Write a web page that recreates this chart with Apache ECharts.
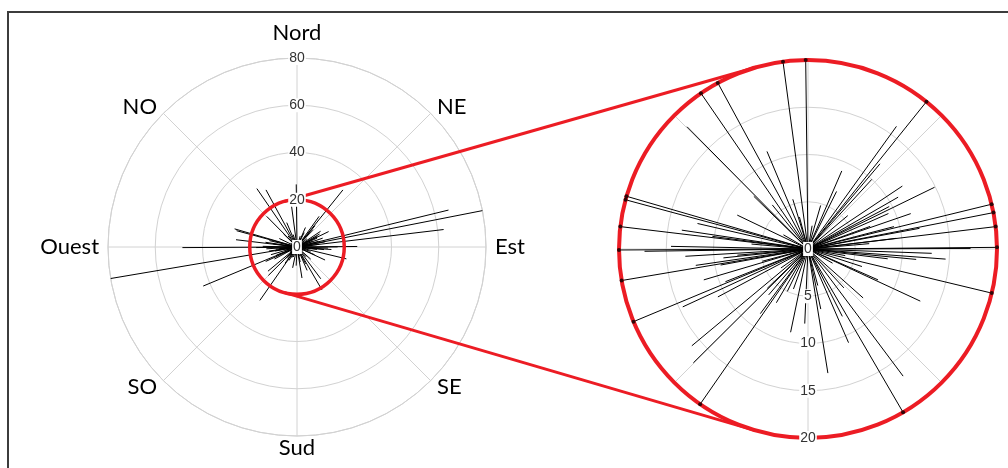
<!DOCTYPE html>
<html>
<head>
<meta charset="utf-8">
<script src="https://cdn.jsdelivr.net/npm/echarts@6.0.0/dist/echarts.min.js"></script>
<style>
html,body{margin:0;padding:0;background:#fff;}
#chart{width:1008px;height:468px;}
</style>
</head>
<body>
<div id="chart"></div>
<script>
// ---- data ----
const directionLabels = ['Nord', 'NE', 'Est', 'SE', 'Sud', 'SO', 'Ouest', 'NO'];
const mainTicks = [0, 20, 40, 60, 80];
const zoomTicks = [0, 5, 10, 15, 20];
// bearing of each segment (degrees, clockwise from Nord)
const bearings = [
  10, 16.2, 23.4, 26.4, 35.8, 38.8, 40.2, 42.5, 50, 56.3,
  60.1, 62.4, 64.0, 66.2, 70, 71.0, 75.4, 76.3, 78.9, 79.5,
  83.1, 83.2, 85, 89.5, 89.8, 92.0, 94.2, 95.5, 97, 100,
  103.5, 108, 113.8, 114.9, 120, 131.6, 137.3, 143.2, 149.8, 153,
  156.6, 165, 168, 170.9, 182.5, 191.8, 200, 206, 210.5, 214.8,
  216.4, 220.6, 225.2, 226.0, 230.2, 235, 242.0, 245.2, 247.4, 248.4,
  253.5, 255, 259.6, 260.4, 261.7, 264, 265, 266.6, 269.2, 269.7,
  271.1, 275, 276.8, 277.5, 278.5, 283, 285.1, 286.2, 295.6, 300,
  314.2, 315.3, 321, 325.5, 331.5, 337.2, 343, 345, 352.4, 359.3
];
// length of each segment
const values = [
  2.5, 4.8, 9.0, 6.8, 16.0, 31, 11.8, 10.0, 5.5, 12.0,
  11.0, 9.7, 14.9, 9.3, 7.0, 11.5, 9.4, 66, 87, 12.0,
  9.4, 62.5, 6.5, 25.5, 17.2, 13.1, 14.6, 11.5, 8.5, 4.0,
  21.5, 6.0, 8.1, 13.1, 3.0, 7.8, 5.6, 16.8, 21, 8.0,
  10.8, 4.0, 6.5, 13.3, 7.9, 9.0, 4.5, 5.0, 6.6, 27.5,
  8.5, 6.4, 17.1, 6.0, 16.0, 3.5, 10.8, 14.6, 43, 9.4,
  11.5, 5.0, 9.4, 86.5, 12.0, 9.0, 7.5, 13.0, 17.3, 48.5,
  14.5, 6.0, 26, 10.2, 13.5, 12.0, 26.5, 27.5, 8.3, 3.0,
  8.0, 18.2, 6.0, 30, 27.5, 11.2, 5.5, 3.5, 22.5, 26.5
];

const ZOOM_MAX = zoomTicks[zoomTicks.length - 1];

function segments(limit) {
  const out = [];
  for (let i = 0; i < bearings.length; i++) {
    const v = limit == null ? values[i] : Math.min(values[i], limit);
    out.push([0, bearings[i]], [v, bearings[i]], ['-', '-']);
  }
  return out;
}
const clippedEnds = [];
for (let i = 0; i < bearings.length; i++) {
  if (values[i] > ZOOM_MAX) clippedEnds.push([ZOOM_MAX, bearings[i]]);
}

// ---- style / layout ----
const GRID = '#d2d2d2';
const RED = '#ec1c24';
const LABEL_FONT = 'Lato';
const LEFT_C = [297, 247], RIGHT_C = [808, 249], PR = 189;
// radial position (in axis units) of each direction label
const LABEL_RADII = [90.6, 83.8, 83.8, 83.8, 85.1, 83.8, 83.8, 83.8];

const tickLabel = {
  align: 'center', verticalAlign: 'middle', margin: 0,
  fontSize: 14, color: '#333', fontFamily: 'Liberation Sans',
  backgroundColor: '#fff', padding: [0, 1]
};
const angleBase = {
  type: 'value', min: 0, max: 360, interval: 45, startAngle: 90, clockwise: true,
  axisLine: { lineStyle: { color: GRID, width: 1 } },
  axisTick: { show: false }, axisLabel: { show: false },
  splitLine: { lineStyle: { color: GRID, width: 1 } }
};
const gridRadius = {
  type: 'value', axisLine: { show: false }, axisTick: { show: false },
  splitLine: { lineStyle: { color: GRID, width: 1 } }, axisLabel: { show: false }
};
const labelRadius = {
  type: 'value', z: 10, axisLine: { show: false }, axisTick: { show: false },
  splitLine: { show: false }, axisLabel: tickLabel
};

const chart = echarts.init(document.getElementById('chart'), null, { renderer: 'canvas' });
chart.setOption({
  animation: false,
  backgroundColor: '#fff',
  polar: [
    { center: LEFT_C, radius: PR },
    { center: RIGHT_C, radius: PR },
    { center: RIGHT_C, radius: PR },
    { center: LEFT_C, radius: PR }
  ],
  angleAxis: [
    Object.assign({ polarIndex: 0 }, angleBase),
    Object.assign({ polarIndex: 1 }, angleBase),
    { polarIndex: 2, type: 'value', min: 0, max: 360, startAngle: 270, show: false },
    { polarIndex: 3, type: 'value', min: 0, max: 360, startAngle: 90, show: false }
  ],
  radiusAxis: [
    Object.assign({ polarIndex: 0, min: mainTicks[0], max: mainTicks[mainTicks.length - 1],
      interval: mainTicks[1] - mainTicks[0] }, gridRadius),
    Object.assign({ polarIndex: 1, min: zoomTicks[0], max: ZOOM_MAX,
      interval: zoomTicks[1] - zoomTicks[0] }, gridRadius),
    Object.assign({ polarIndex: 2, min: zoomTicks[0], max: ZOOM_MAX,
      interval: zoomTicks[1] - zoomTicks[0] }, labelRadius),
    Object.assign({ polarIndex: 3, min: mainTicks[0], max: mainTicks[mainTicks.length - 1],
      interval: mainTicks[1] - mainTicks[0] }, labelRadius)
  ],
  series: [
    {
      type: 'line', coordinateSystem: 'polar', polarIndex: 0,
      data: segments(null), showSymbol: false, symbol: 'none', connectNulls: false,
      lineStyle: { color: '#000', width: 1 }, z: 3
    },
    {
      type: 'line', coordinateSystem: 'polar', polarIndex: 1,
      data: segments(ZOOM_MAX), showSymbol: false, symbol: 'none', connectNulls: false,
      lineStyle: { color: '#000', width: 1 }, z: 3
    },
    {
      type: 'scatter', coordinateSystem: 'polar', polarIndex: 1,
      data: clippedEnds, symbolSize: 4, itemStyle: { color: '#000' }, z: 6
    }
  ]
});

// ---- decorations computed from the polar systems ----
const c0 = chart.convertToPixel({ seriesIndex: 0 }, [0, 0]);
const e0 = chart.convertToPixel({ seriesIndex: 0 }, [ZOOM_MAX, 0]);
const r0 = Math.hypot(e0[0] - c0[0], e0[1] - c0[1]);
const c1 = chart.convertToPixel({ seriesIndex: 1 }, [0, 0]);
const e1 = chart.convertToPixel({ seriesIndex: 1 }, [ZOOM_MAX, 0]);
const r1 = Math.hypot(e1[0] - c1[0], e1[1] - c1[1]);

const dx = c1[0] - c0[0], dy = c1[1] - c0[1];
const L = Math.hypot(dx, dy);
const ux = dx / L, uy = dy / L, wx = -uy, wy = ux;
const a = -(r1 - r0) / L, bb = Math.sqrt(1 - a * a);
const tangents = [-1, 1].map(function (s) {
  const nx = a * ux + s * bb * wx, ny = a * uy + s * bb * wy;
  return {
    type: 'line', z: 5,
    shape: { x1: c0[0] + r0 * nx, y1: c0[1] + r0 * ny, x2: c1[0] + r1 * nx, y2: c1[1] + r1 * ny },
    style: { stroke: RED, lineWidth: 3 }
  };
});

const dirTexts = directionLabels.map(function (name, k) {
  const ang = k * 45;
  const p = chart.convertToPixel({ seriesIndex: 0 }, [LABEL_RADII[k], ang]);
  const vertical = (k % 4) === 0;
  const align = vertical ? 'center' : (p[0] > c0[0] ? 'left' : 'right');
  return {
    type: 'text', z: 10, x: p[0], y: p[1],
    style: { text: name, fontSize: 22, fontFamily: LABEL_FONT, fill: '#000', align: align, verticalAlign: 'middle' }
  };
});

chart.setOption({
  graphic: [
    {
      type: 'rect', z: 20, shape: { x: 8, y: 12, width: 1100, height: 500 },
      style: { fill: 'none', stroke: '#3c3c3c', lineWidth: 2 }
    },
    { type: 'circle', z: 5, shape: { cx: c0[0], cy: c0[1], r: r0 }, style: { fill: 'none', stroke: RED, lineWidth: 3.5 } },
    { type: 'circle', z: 5, shape: { cx: c1[0], cy: c1[1], r: r1 }, style: { fill: 'none', stroke: RED, lineWidth: 4 } }
  ].concat(tangents, dirTexts)
});
</script>
</body>
</html>
